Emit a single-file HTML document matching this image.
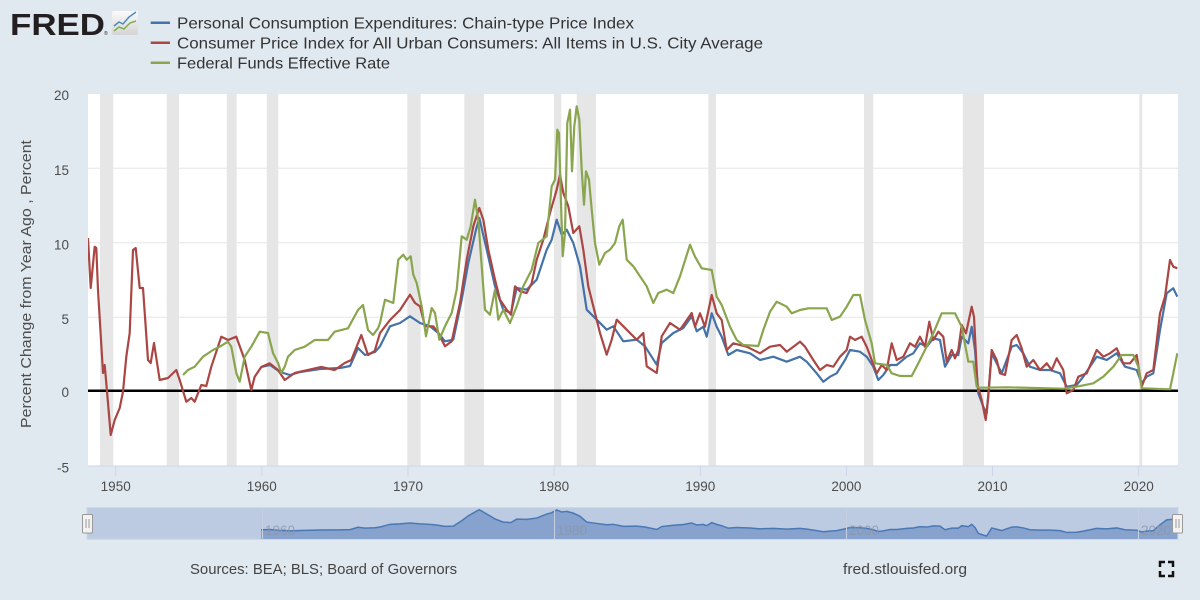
<!DOCTYPE html>
<html><head><meta charset="utf-8"><style>
html,body{margin:0;padding:0;background:#e1e9f0;}
svg{display:block;font-family:"Liberation Sans",Arial,sans-serif;}
</style></head><body>
<svg width="1200" height="600" viewBox="0 0 1200 600" xmlns="http://www.w3.org/2000/svg">
<defs>
<linearGradient id="lg" x1="0" y1="0" x2="0" y2="1"><stop offset="0" stop-color="#fbfbfb"/><stop offset="1" stop-color="#d4d4d4"/></linearGradient>
<clipPath id="pc"><rect x="88" y="93.5" width="1090" height="372.5"/></clipPath>
</defs>
<rect width="1200" height="600" fill="#e1e9f0"/>
<!-- Logo -->
<text x="10" y="35" font-size="31" font-weight="bold" fill="#231f20" textLength="95" lengthAdjust="spacingAndGlyphs">FRED</text>
<text x="104" y="35" font-size="5" fill="#231f20">®</text>
<rect x="112" y="11" width="26" height="24" rx="2" fill="url(#lg)"/>
<polyline points="114,26 119,22 123,24 129,17 136,12" fill="none" stroke="#4d8ac0" stroke-width="1.5"/>
<polyline points="114,31 119,27 124,29 130,23 136,21" fill="none" stroke="#7fae4c" stroke-width="1.5"/>
<!-- Legend -->
<line x1="150.7" y1="22.7" x2="170" y2="22.7" stroke="#4572a7" stroke-width="2.5"/>
<line x1="150.7" y1="42.7" x2="170" y2="42.7" stroke="#aa4643" stroke-width="2.5"/>
<line x1="150.7" y1="62.7" x2="170" y2="62.7" stroke="#89a54e" stroke-width="2.5"/>
<g font-size="16" fill="#333">
<text x="177" y="28.5" textLength="457" lengthAdjust="spacingAndGlyphs">Personal Consumption Expenditures: Chain-type Price Index</text>
<text x="177" y="48.5" textLength="586" lengthAdjust="spacingAndGlyphs">Consumer Price Index for All Urban Consumers: All Items in U.S. City Average</text>
<text x="177" y="68.5" textLength="213" lengthAdjust="spacingAndGlyphs">Federal Funds Effective Rate</text>
</g>
<!-- Plot area -->
<rect x="88" y="93.5" width="1090" height="372.5" fill="#ffffff"/>
<g fill="#e6e6e6">
<rect x="100" y="93.5" width="13.3" height="372.5"/>
<rect x="166.7" y="93.5" width="12.3" height="372.5"/>
<rect x="226.7" y="93.5" width="10" height="372.5"/>
<rect x="266.7" y="93.5" width="11.6" height="372.5"/>
<rect x="407.3" y="93.5" width="13.4" height="372.5"/>
<rect x="464.3" y="93.5" width="19.7" height="372.5"/>
<rect x="554" y="93.5" width="7.3" height="372.5"/>
<rect x="576.7" y="93.5" width="19.3" height="372.5"/>
<rect x="708.3" y="93.5" width="7.7" height="372.5"/>
<rect x="864" y="93.5" width="9.3" height="372.5"/>
<rect x="962.7" y="93.5" width="21.3" height="372.5"/>
<rect x="1139.3" y="93.5" width="3" height="372.5"/>
</g>
<g stroke="#e6e6e6" stroke-width="1">
<line x1="88" y1="93.5" x2="1178" y2="93.5"/>
<line x1="88" y1="168.3" x2="1178" y2="168.3"/>
<line x1="88" y1="242.8" x2="1178" y2="242.8"/>
<line x1="88" y1="317.3" x2="1178" y2="317.3"/>
</g>
<line x1="88" y1="466" x2="1178" y2="466" stroke="#ccd6eb" stroke-width="1"/>
<g stroke="#ccd6eb" stroke-width="1">
<line x1="115.7" y1="466" x2="115.7" y2="476"/>
<line x1="261.8" y1="466" x2="261.8" y2="476"/>
<line x1="408" y1="466" x2="408" y2="476"/>
<line x1="554.1" y1="466" x2="554.1" y2="476"/>
<line x1="700.3" y1="466" x2="700.3" y2="476"/>
<line x1="846.4" y1="466" x2="846.4" y2="476"/>
<line x1="992.5" y1="466" x2="992.5" y2="476"/>
<line x1="1138.7" y1="466" x2="1138.7" y2="476"/>
</g>
<line x1="88" y1="390.7" x2="1178" y2="390.7" stroke="#000" stroke-width="2.5"/>
<g clip-path="url(#pc)" fill="none" stroke-width="2.2" stroke-linejoin="round">
<polyline stroke="#4572a7" points="261,367 270,365 280,372 290,375 300,372 320,369 340,368 350,366 358,348 365,355 375,352 380,346.3 390,326.3 400,323 410,316.3 420,323 430,326.3 438.3,333 445,341.3 453.3,339.7 461.7,299.7 468.3,263 476,229.7 479.3,218 486.7,249.7 495,286.3 503.3,309.7 511,313 516.7,288 526.7,289.7 536.7,279.7 546.7,249.7 551.7,239.7 556.7,219.7 561.7,234.7 566.7,229.7 573.3,243 580,266.3 586.7,309.7 596.7,319.7 606.7,329.7 613.3,326.3 623.3,341.3 636.7,339.7 645,346.3 656.7,364.7 661.7,343 673.3,333 683.3,328 691.7,316.3 696.7,331.3 703.3,326.7 706.7,336.7 711.7,313.3 716.7,326.7 721.7,336.7 728.3,355 736.7,350 750,353.3 760,360 773.3,356.7 786.7,361.7 800,356.7 806.7,361.7 816.7,373.3 823.3,381.7 830,376.7 836.7,373.3 845,360 850,350 860,351.7 866.7,356.7 873.3,366.7 878.3,380 883.3,375 890,365 896.7,365 906.7,356.7 913.3,353.3 920,343.3 926.7,346.7 933.3,338.3 940,340 945,366.7 951.7,355 958.3,355 961.7,336.7 968.3,343.3 971.7,326.7 975,350 978.3,393.3 983.3,406.7 986.7,413.3 991.7,353.3 996.7,363.3 1001.7,373.3 1011.7,346.7 1016.7,345 1023.3,353.3 1030,366.7 1040,370 1050,370 1060,373.3 1066.7,386.7 1076.7,385 1083.3,376.7 1096.7,356.7 1106.7,360 1116.7,353.3 1125,366.7 1136.7,370 1141.7,383.3 1146.7,376.7 1153.3,373.3 1160,330 1166.7,293.3 1173.3,288.3 1177.3,296.7"/>
<polyline stroke="#aa4643" points="88,238 90.7,288 94.7,246.7 96.3,248 98,290 103,373 104.7,365 108,403 110.7,435 114.7,420 119.7,408 123,391.7 126.3,356.7 129.7,333 133,250 135.7,248 139.7,288 143,288 148,360 150.7,363 154,343 159.7,380 168,378 176.3,370 179.7,380 186.3,401.7 191.3,398 194.7,401.7 201.3,385 206.3,386 211.3,366.7 221.3,336.7 228,340 236.3,336.7 244.7,360 251.3,390 254.7,376.7 261.3,367 269.7,363.3 278,370 284.7,380 294.7,373 308,370 321.3,367 334.7,370 344.7,363 351.3,360 361.3,335 368,355 374.7,351 380,333 390,320 400,310 410,294.7 415,303 420,306.3 425,326.3 433.3,326.3 438.3,333 445,346.3 451.7,341.3 460,303 466.7,259.7 473.3,226.3 479.3,208 483.3,219.7 488.3,249.7 495,279.7 500,299.7 506.7,309.7 511,314.7 515,286.3 520,291.3 526.7,293 531.7,283 536.7,259.7 543.3,239.7 550,213 556.7,189.7 560,174.7 563.3,193 568.3,206.3 573.3,233 579.3,226.3 583.3,249.7 588.3,286.3 593.3,306.3 600,333 606.7,354.7 611.7,339.7 616.7,319.7 626.7,329.7 636.7,339.7 643.3,333 646.7,366.3 656.7,373 661.7,336.3 670,323 680,329.7 691.7,313 695,326.7 700,313.3 705,326.7 711.7,295 716.7,313.3 721.7,320 726.7,350 733.3,343.3 746.7,346.7 760,353.3 770,346.7 780,345 786.7,351.7 800,341.7 805,346.7 813.3,360 820,370 826.7,365 833.3,366.7 840,356.7 846.7,350 850,336.7 855,340 861.7,336.7 866.7,346.7 871.7,360 876.7,373.3 881.7,365 886.7,370 891.7,343.3 896.7,360 903.3,356.7 910,343.3 915,346.7 920,336.7 925,346.7 929.3,321.7 933.3,340 938.3,331.7 943.3,336.7 946.7,361.7 951.7,350 955,358.3 958.3,350 961.7,325 966,333.3 971.7,306.7 974,316.7 977.5,385 981.7,400 985.7,420 988.3,396.7 991.7,350 996.7,360 1000,373.3 1005,375 1011.7,340 1016.7,335 1021.7,348.3 1026.7,366.7 1033.3,360 1040,370 1046.7,363.3 1051.7,370 1056.7,358.3 1063.3,370 1066.7,393.3 1073.3,390 1078.3,376.7 1086.7,373.3 1096.7,350 1103.3,356.7 1110,353.3 1116.7,348.3 1123.3,363.3 1130,363.3 1136.7,355 1141.7,386.7 1146.7,373.3 1153.3,370 1160,313.3 1165,296.7 1170,260 1173.3,266.7 1177.3,268.3"/>
<polyline stroke="#89a54e" points="183,375 188,370 194.7,366.7 203,356.7 213,350 219.7,346.7 228,341.7 231.3,346.7 236.3,373 239.7,381.7 244.7,356.7 251.3,346.7 259.7,331.7 268,333 273,353 278,363 281.3,373 284.7,366.7 288,356.7 294.7,350 304.7,346.7 314.7,340 328,340 334.7,331.7 348,328.3 358,310 363,305 368,330 373,335 378,328.3 380,323 385,299.7 393.3,303 398.3,259.7 403.3,254.7 406.7,259.7 410.7,256.3 413.3,274.7 416.7,283 421.7,306.3 426,336.3 431.7,308 435,313 439.3,339.7 445,326.3 451.7,313 456.7,289.7 461.7,236.3 466.7,239.7 470.7,226.3 475,199.7 478.3,219.7 481.7,266.3 485,309.7 490,314.7 495,289.7 498.3,319.7 503.3,309.7 510,323 516.7,306.3 523.3,286.3 531.7,269.7 538.3,243 546.7,236.3 551.7,186.3 555,179.7 557.3,129.7 559,133 560.7,193 562.7,256.3 565,233 567.3,123 570,109.7 572,171.3 574.3,126.3 576.7,106.3 579.3,119.7 581.7,169.7 584,204.7 586,171.3 589,179.7 591.7,209.7 595,243 599.3,264.7 605,253 610,249.7 615,243 619.3,226.3 622.7,219.7 626.7,259.7 633.3,266.3 640,276.3 646.7,286.3 653.3,303 658.3,293 666.7,289.7 673.3,293 680,276.3 690,244.7 695,256.7 701.7,268.3 711.7,270 716.7,296.7 721.7,305 730,326.7 736.7,340 743.3,345 758.3,346 763.3,330 770,311.7 776.7,301.7 786.7,306.7 791.7,313.3 800,310 808.3,308.3 826.7,308.3 831.7,320 840,316.7 846.7,306.7 853.3,295 860,295 865,320 871.7,343.3 875,363.3 886.7,365 891.7,373.3 900,376 911.7,376 920,360 933.3,333.3 941.7,313.3 955,313.3 961.7,326.7 968.3,361.7 973.3,361.7 976.7,386.7 980,387.7 1006.7,387.3 1063.3,388.7 1076.7,386.7 1093.3,383.3 1103.3,376.7 1113.3,366.7 1121.7,355 1133.3,355 1138.3,366.7 1141.7,388.3 1170,389.3 1173.3,373.3 1177.3,353.3"/>
</g>
<!-- Y labels -->
<g font-size="13.5" fill="#4d4d4d" text-anchor="end">
<text x="69" y="100">20</text>
<text x="69" y="174.8">15</text>
<text x="69" y="249.3">10</text>
<text x="69" y="323.8">5</text>
<text x="69" y="397.2">0</text>
<text x="69" y="472.5">-5</text>
</g>
<text transform="translate(31,284) rotate(-90)" font-size="15" fill="#4d4d4d" text-anchor="middle" textLength="288" lengthAdjust="spacingAndGlyphs">Percent Change from Year Ago , Percent</text>
<!-- X labels -->
<g font-size="13.5" fill="#4d4d4d" text-anchor="middle">
<text x="115.7" y="491">1950</text>
<text x="261.8" y="491">1960</text>
<text x="408" y="491">1970</text>
<text x="554.1" y="491">1980</text>
<text x="700.3" y="491">1990</text>
<text x="846.4" y="491">2000</text>
<text x="992.5" y="491">2010</text>
<text x="1138.7" y="491">2020</text>
</g>
<!-- Navigator -->
<rect x="87" y="507.7" width="1091" height="31.5" fill="#bccbe2" stroke="#c9d4e2" stroke-width="1"/>
<g transform="matrix(1 0 0 0.13423 0 480.52)">
<polygon fill="#86a2cd" stroke="none" points="261,367 270,365 280,372 290,375 300,372 320,369 340,368 350,366 358,348 365,355 375,352 380,346.3 390,326.3 400,323 410,316.3 420,323 430,326.3 438.3,333 445,341.3 453.3,339.7 461.7,299.7 468.3,263 476,229.7 479.3,218 486.7,249.7 495,286.3 503.3,309.7 511,313 516.7,288 526.7,289.7 536.7,279.7 546.7,249.7 551.7,239.7 556.7,219.7 561.7,234.7 566.7,229.7 573.3,243 580,266.3 586.7,309.7 596.7,319.7 606.7,329.7 613.3,326.3 623.3,341.3 636.7,339.7 645,346.3 656.7,364.7 661.7,343 673.3,333 683.3,328 691.7,316.3 696.7,331.3 703.3,326.7 706.7,336.7 711.7,313.3 716.7,326.7 721.7,336.7 728.3,355 736.7,350 750,353.3 760,360 773.3,356.7 786.7,361.7 800,356.7 806.7,361.7 816.7,373.3 823.3,381.7 830,376.7 836.7,373.3 845,360 850,350 860,351.7 866.7,356.7 873.3,366.7 878.3,380 883.3,375 890,365 896.7,365 906.7,356.7 913.3,353.3 920,343.3 926.7,346.7 933.3,338.3 940,340 945,366.7 951.7,355 958.3,355 961.7,336.7 968.3,343.3 971.7,326.7 975,350 978.3,393.3 983.3,406.7 986.7,413.3 991.7,353.3 996.7,363.3 1001.7,373.3 1011.7,346.7 1016.7,345 1023.3,353.3 1030,366.7 1040,370 1050,370 1060,373.3 1066.7,386.7 1076.7,385 1083.3,376.7 1096.7,356.7 1106.7,360 1116.7,353.3 1125,366.7 1136.7,370 1141.7,383.3 1146.7,376.7 1153.3,373.3 1160,330 1166.7,293.3 1173.3,288.3 1177.3,296.7 1177.3,436 261,436"/>
<polyline fill="none" stroke="#4a78b5" stroke-width="1.5" vector-effect="non-scaling-stroke" points="261,367 270,365 280,372 290,375 300,372 320,369 340,368 350,366 358,348 365,355 375,352 380,346.3 390,326.3 400,323 410,316.3 420,323 430,326.3 438.3,333 445,341.3 453.3,339.7 461.7,299.7 468.3,263 476,229.7 479.3,218 486.7,249.7 495,286.3 503.3,309.7 511,313 516.7,288 526.7,289.7 536.7,279.7 546.7,249.7 551.7,239.7 556.7,219.7 561.7,234.7 566.7,229.7 573.3,243 580,266.3 586.7,309.7 596.7,319.7 606.7,329.7 613.3,326.3 623.3,341.3 636.7,339.7 645,346.3 656.7,364.7 661.7,343 673.3,333 683.3,328 691.7,316.3 696.7,331.3 703.3,326.7 706.7,336.7 711.7,313.3 716.7,326.7 721.7,336.7 728.3,355 736.7,350 750,353.3 760,360 773.3,356.7 786.7,361.7 800,356.7 806.7,361.7 816.7,373.3 823.3,381.7 830,376.7 836.7,373.3 845,360 850,350 860,351.7 866.7,356.7 873.3,366.7 878.3,380 883.3,375 890,365 896.7,365 906.7,356.7 913.3,353.3 920,343.3 926.7,346.7 933.3,338.3 940,340 945,366.7 951.7,355 958.3,355 961.7,336.7 968.3,343.3 971.7,326.7 975,350 978.3,393.3 983.3,406.7 986.7,413.3 991.7,353.3 996.7,363.3 1001.7,373.3 1011.7,346.7 1016.7,345 1023.3,353.3 1030,366.7 1040,370 1050,370 1060,373.3 1066.7,386.7 1076.7,385 1083.3,376.7 1096.7,356.7 1106.7,360 1116.7,353.3 1125,366.7 1136.7,370 1141.7,383.3 1146.7,376.7 1153.3,373.3 1160,330 1166.7,293.3 1173.3,288.3 1177.3,296.7"/>
</g>
<g stroke="#c4d0e2" stroke-width="1">
<line x1="262.5" y1="508" x2="262.5" y2="539"/>
<line x1="554.5" y1="508" x2="554.5" y2="539"/>
<line x1="846.5" y1="508" x2="846.5" y2="539"/>
<line x1="1138.5" y1="508" x2="1138.5" y2="539"/>
</g>
<g font-size="13.5" fill="#8c96a6" fill-opacity="0.8">
<text x="265" y="535">1960</text>
<text x="557" y="535">1980</text>
<text x="849" y="535">2000</text>
<text x="1141" y="535">2020</text>
</g>
<rect x="82.5" y="514.5" width="10" height="18.5" rx="1" fill="#f2f2f2" stroke="#999" stroke-width="1"/>
<line x1="86" y1="519" x2="86" y2="528" stroke="#999" stroke-width="1"/>
<line x1="89" y1="519" x2="89" y2="528" stroke="#999" stroke-width="1"/>
<rect x="1172.5" y="514.5" width="10" height="18.5" rx="1" fill="#f2f2f2" stroke="#999" stroke-width="1"/>
<line x1="1176" y1="519" x2="1176" y2="528" stroke="#999" stroke-width="1"/>
<line x1="1179" y1="519" x2="1179" y2="528" stroke="#999" stroke-width="1"/>
<!-- Footer -->
<g font-size="15" fill="#444">
<text x="190" y="574" textLength="267" lengthAdjust="spacingAndGlyphs">Sources: BEA; BLS; Board of Governors</text>
<text x="843" y="574" textLength="124" lengthAdjust="spacingAndGlyphs">fred.stlouisfed.org</text>
</g>
<g fill="none" stroke="#111" stroke-width="2.5">
<polyline points="1160,567 1160,562 1165,562"/>
<polyline points="1168,562 1173,562 1173,567"/>
<polyline points="1160,571 1160,576 1165,576"/>
<polyline points="1168,576 1173,576 1173,571"/>
</g>
</svg>
</body></html>
